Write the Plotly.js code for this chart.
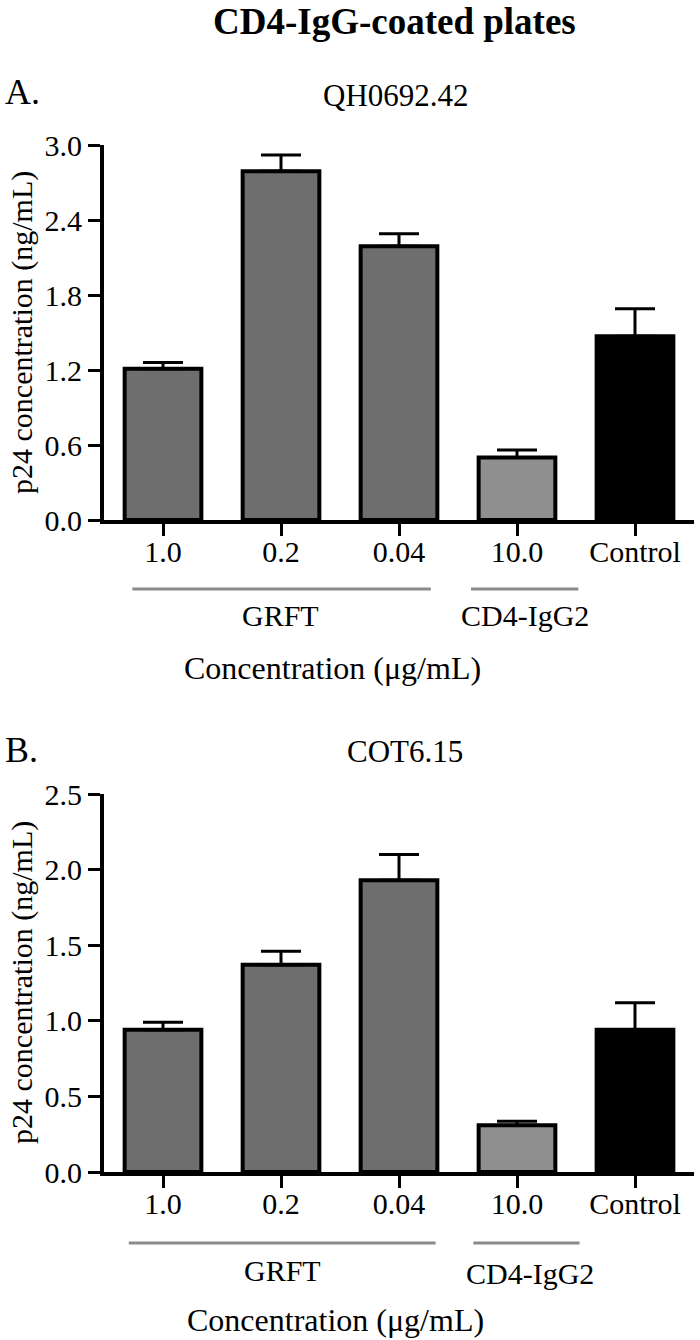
<!DOCTYPE html>
<html>
<head>
<meta charset="utf-8">
<script src="https://cdn.plot.ly/plotly-3.0.1.min.js"></script>
<style>html,body{margin:0;padding:0;background:#fff;}#chart{width:700px;height:1340px;}</style>
</head>
<body>
<div id="chart"></div>
<script>
// ---- data ----
const categories = ['1.0', '0.2', '0.04', '10.0', 'Control'];
const groupLabels = ['GRFT', 'CD4-IgG2'];

const panelATitle = 'QH0692.42';
const valuesA = [1.21, 2.79, 2.19, 0.50, 1.47];
const errorsA = [0.05, 0.13, 0.10, 0.06, 0.22];
const yTicksA = [0, 0.6, 1.2, 1.8, 2.4, 3.0];
const yTickTextA = ['0.0', '0.6', '1.2', '1.8', '2.4', '3.0'];

const panelBTitle = 'COT6.15';
const valuesB = [0.94, 1.37, 1.93, 0.31, 0.94];
const errorsB = [0.05, 0.09, 0.17, 0.025, 0.18];
const yTicksB = [0, 0.5, 1.0, 1.5, 2.0, 2.5];
const yTickTextB = ['0.0', '0.5', '1.0', '1.5', '2.0', '2.5'];

const noLowerError = [0, 0, 0, 0, 0];
const barColors = ['#6e6e6e', '#6e6e6e', '#6e6e6e', '#8f8f8f', '#000000'];

// ---- layout helpers ----
const W = 700, H = 1340;
const FONT = '"Liberation Serif", "Times New Roman", Times, serif';
const px = x => x / W;
const py = y => (H - y) / H;

function barTrace(vals, errs, xa, ya) {
  return {
    type: 'bar', x: categories, y: vals, xaxis: xa, yaxis: ya,
    width: 0.65,
    marker: { color: barColors, line: { color: '#000', width: 4 } },
    error_y: { type: 'data', symmetric: false, array: errs, arrayminus: noLowerError,
               color: '#000', thickness: 3, width: 20 },
    showlegend: false, hoverinfo: 'skip'
  };
}

const data = [
  barTrace(valuesA, errorsA, 'x', 'y'),
  barTrace(valuesB, errorsB, 'x2', 'y2')
];

const xCommon = {
  type: 'category', range: [-0.5, 4.5], domain: [px(104), px(694)],
  showline: true, linecolor: '#000', linewidth: 4,
  ticks: 'outside', ticklen: 12, tickwidth: 3, tickcolor: '#000',
  ticklabelstandoff: -10,
  showgrid: false, zeroline: false,
  tickfont: { family: FONT, size: 30, color: '#000' }
};
const yCommon = {
  showline: true, linecolor: '#000', linewidth: 4,
  ticks: 'outside', ticklen: 12, tickwidth: 3, tickcolor: '#000',
  showgrid: false, zeroline: false, tickmode: 'array',
  tickfont: { family: FONT, size: 30, color: '#000' }
};

const txt = (text, x, y, size, extra) => Object.assign({
  text: text, x: px(x), y: py(y), xref: 'paper', yref: 'paper',
  showarrow: false, xanchor: 'center', yanchor: 'middle',
  font: { family: FONT, size: size, color: '#000' }
}, extra || {});

const layout = {
  width: W, height: H,
  margin: { l: 0, r: 0, t: 0, b: 0 },
  paper_bgcolor: '#fff', plot_bgcolor: '#fff',
  xaxis: Object.assign({}, xCommon, { anchor: 'y' }),
  yaxis: Object.assign({}, yCommon, {
    anchor: 'x', domain: [py(520), py(145)], range: [0, 3.0],
    tickvals: yTicksA, ticktext: yTickTextA
  }),
  xaxis2: Object.assign({}, xCommon, { anchor: 'y2' }),
  yaxis2: Object.assign({}, yCommon, {
    anchor: 'x2', domain: [py(1172), py(794)], range: [0, 2.5],
    tickvals: yTicksB, ticktext: yTickTextB
  }),
  shapes: [
    { type: 'line', xref: 'x', yref: 'paper', x0: -0.26, x1: 2.27, y0: py(589), y1: py(589), line: { color: '#8a8a8a', width: 3 } },
    { type: 'line', xref: 'x', yref: 'paper', x0: 2.61, x1: 3.52, y0: py(589), y1: py(589), line: { color: '#8a8a8a', width: 3 } },
    { type: 'line', xref: 'x2', yref: 'paper', x0: -0.29, x1: 2.31, y0: py(1243), y1: py(1243), line: { color: '#8a8a8a', width: 3 } },
    { type: 'line', xref: 'x2', yref: 'paper', x0: 2.63, x1: 3.53, y0: py(1243), y1: py(1243), line: { color: '#8a8a8a', width: 3 } }
  ],
  annotations: [
    txt('<b>CD4-IgG-coated plates</b>', 394, 0, 37, { yanchor: 'top', borderpad: 0 }),
    txt('A.', 3, 92, 36, { xanchor: 'left' }),
    txt(panelATitle, 396, 95, 31),
    txt('p24 concentration (ng/mL)', 22, 333, 30, { textangle: -90 }),
    txt(groupLabels[0], 280, 615, 30),
    txt(groupLabels[1], 525, 615, 30),
    txt('Concentration (μg/mL)', 332, 668, 32),
    txt('B.', 3, 750, 36, { xanchor: 'left' }),
    txt(panelBTitle, 405, 751, 31),
    txt('p24 concentration (ng/mL)', 22, 983, 30, { textangle: -90 }),
    txt(groupLabels[0], 282, 1270, 30),
    txt(groupLabels[1], 530, 1273, 30),
    txt('Concentration (μg/mL)', 335, 1320, 32)
  ]
};

Plotly.newPlot('chart', data, layout, { displayModeBar: false, staticPlot: true });
</script>
</body>
</html>
